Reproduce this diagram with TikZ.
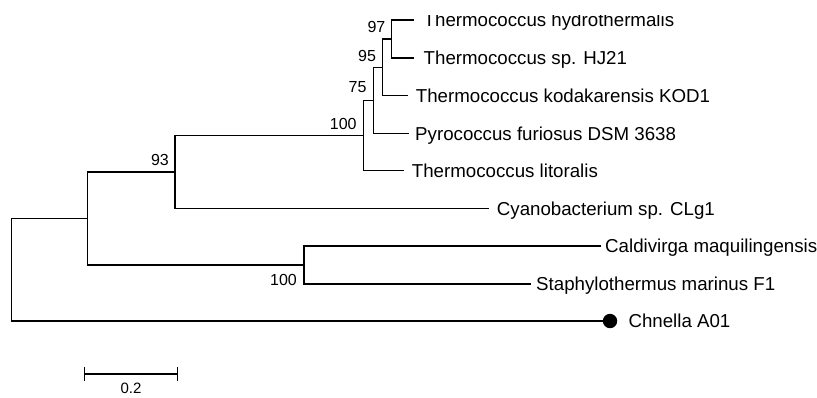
\documentclass[tikz,border=0pt]{standalone}
\usepackage{fontspec}
\setmainfont{Liberation Sans}
\begin{document}
\begin{tikzpicture}[x=1pt,y=-1pt,
  branch/.style={line width=1.2pt, line cap=rect},
  leaf/.style={anchor=base west, inner sep=0pt, font=\fontsize{18.7}{20}\selectfont},
  boot/.style={anchor=base east, inner sep=0pt, font=\fontsize{16}{18}\selectfont}]
\useasboundingbox (0,0) rectangle (817,397);
% leaf ends
\coordinate (e1) at (413,20);
\coordinate (e2) at (413,58);
\coordinate (e3) at (407.5,95.5);
\coordinate (e4) at (408.3,133.3);
\coordinate (e5) at (403.3,170.7);
\coordinate (e6) at (488.3,208.5);
\coordinate (e7) at (600,246);
\coordinate (e8) at (530,284);
% internal nodes
\coordinate (F) at (391.5,39);
\coordinate (E) at (382.7,67.25);
\coordinate (D) at (373.2,100.3);
\coordinate (C) at (363.3,135.5);
\coordinate (B) at (175,172);
\coordinate (G) at (304,265);
\coordinate (A) at (87.7,218.5);
\coordinate (R) at (11.7,269.75);
% marker
\node[circle, fill=black, minimum size=14.4pt, inner sep=0pt] (dot) at (610,321) {};
% branches
\draw[branch] (e1) -| (F) |- (e2);
\draw[branch] (F) -| (E) |- (e3);
\draw[branch] (E) -| (D) |- (e4);
\draw[branch] (D) -| (C) |- (e5);
\draw[branch] (C) -| (B) |- (e6);
\draw[branch] (e7) -| (G) |- (e8);
\draw[branch] (B) -| (A) |- (G);
\draw[branch] (A) -| (R) |- (dot.west);
% leaf labels
\begin{scope}
\clip (400,15) rectangle (817,45);
\node[leaf] (t1) at (423.5,26.7) {Thermococcus hydrothermalis};
\end{scope}
\node[leaf] (t2) at (423.5,64.7) {Thermococcus sp. HJ21};
\node[leaf] (t3) at (415.7,102.2) {Thermococcus kodakarensis KOD1};
\node[leaf] (t4) at (415,140) {Pyrococcus furiosus DSM 3638};
\node[leaf] (t5) at (411.7,177.4) {Thermococcus litoralis};
\node[leaf] (t6) at (496.7,215.2) {Cyanobacterium sp. CLg1};
\node[leaf] (t7) at (605,252.7) {Caldivirga maquilingensis};
\node[leaf] (t8) at (536,290.7) {Staphylothermus marinus F1};
\node[leaf] (t9) at (628.3,327.7) {Chnella A01};
% bootstrap values
\node[boot] (b97) at ([xshift=-6pt,yshift=6.5pt]F) {97};
\node[boot] (b95) at ([xshift=-6.5pt,yshift=6pt]E) {95};
\node[boot] (b75) at ([xshift=-6.5pt,yshift=7.5pt]D) {75};
\node[boot] (b100a) at ([xshift=-6.5pt,yshift=6.5pt]C) {100};
\node[boot] (b93) at ([xshift=-6pt,yshift=6.5pt]B) {93};
\node[boot] (b100b) at (297,285.5) {100};
% scale bar
\coordinate (s1) at (84.3,374);
\coordinate (s2) at (177.7,374);
\draw[line width=1.2pt] (s1) -- (s2);
\draw[line width=1.2pt] ([yshift=6.7pt]s1) -- ([yshift=-6.7pt]s1);
\draw[line width=1.2pt] ([yshift=6.7pt]s2) -- ([yshift=-6.7pt]s2);
\node[anchor=base, inner sep=0pt, font=\fontsize{15}{16}\selectfont] (sl) at (131,393) {0.2};
\end{tikzpicture}
\end{document}
